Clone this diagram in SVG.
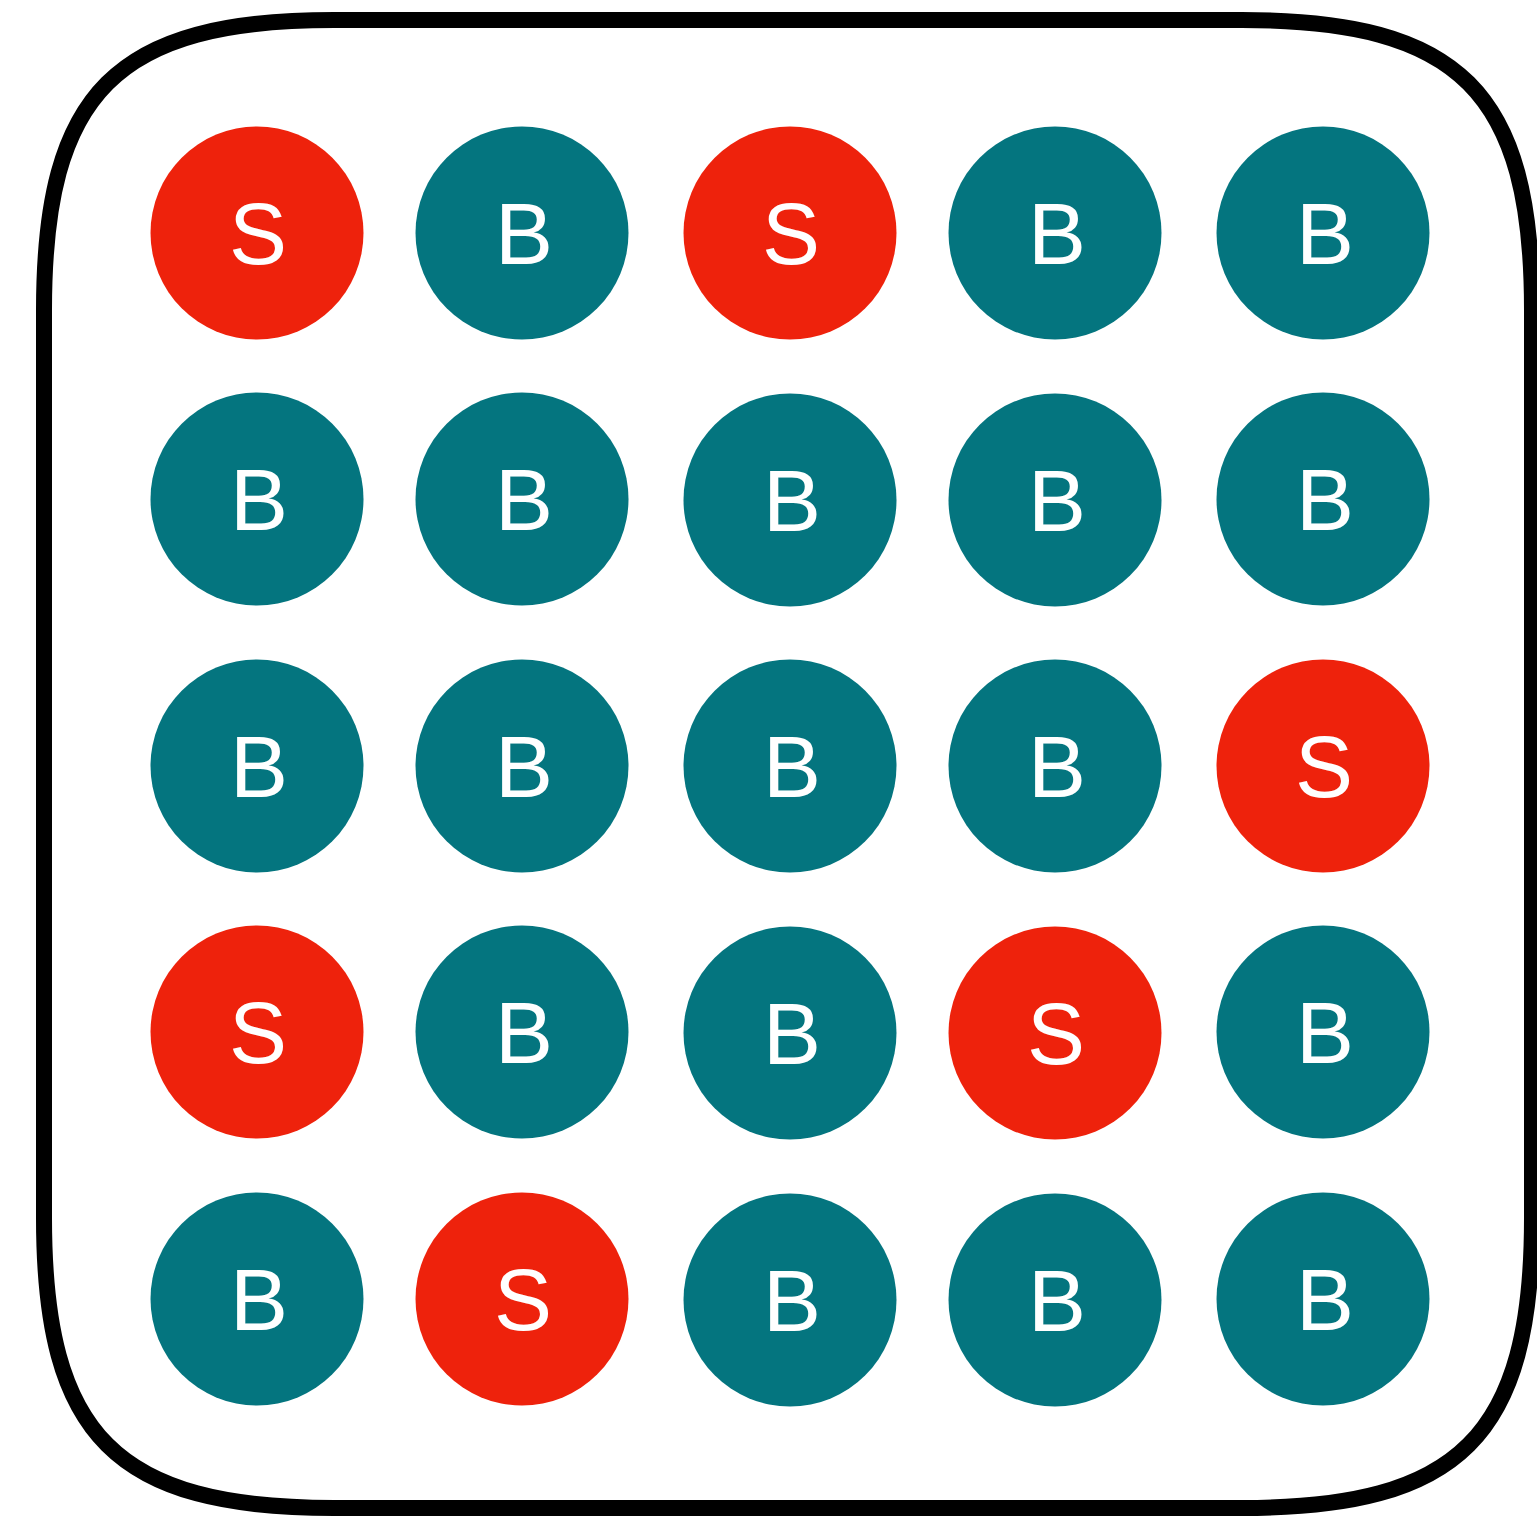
<svg xmlns="http://www.w3.org/2000/svg" width="1537" height="1516" viewBox="0 0 1537 1516">
<style>
.s{fill:#EE220C}
.b{fill:#04757F}
text{font-family:"Liberation Sans",Arial,sans-serif;font-size:87px;fill:#fff;text-anchor:middle}
</style>
<rect width="1537" height="1516" fill="#fff"/>
<path d="M334 20 H1242 C1460 20 1532 92 1532 310 V1218 C1532 1436 1460 1508 1242 1508 H334 C116 1508 44 1436 44 1218 V310 C44 92 116 20 334 20 Z" fill="none" stroke="#000" stroke-width="16"/>
<g id="n11"><circle class="s" cx="257" cy="233" r="106.5"/><text x="258" y="264">S</text></g>
<g id="n12"><circle class="b" cx="522" cy="233" r="106.5"/><text x="524" y="264">B</text></g>
<g id="n13"><circle class="s" cx="790" cy="233" r="106.5"/><text x="791" y="264">S</text></g>
<g id="n14"><circle class="b" cx="1055" cy="233" r="106.5"/><text x="1057" y="264">B</text></g>
<g id="n15"><circle class="b" cx="1323" cy="233" r="106.5"/><text x="1325" y="264">B</text></g>
<g id="n21"><circle class="b" cx="257" cy="499" r="106.5"/><text x="259" y="530">B</text></g>
<g id="n22"><circle class="b" cx="522" cy="499" r="106.5"/><text x="524" y="530">B</text></g>
<g id="n23"><circle class="b" cx="790" cy="500" r="106.5"/><text x="792" y="531">B</text></g>
<g id="n24"><circle class="b" cx="1055" cy="500" r="106.5"/><text x="1057" y="531">B</text></g>
<g id="n25"><circle class="b" cx="1323" cy="499" r="106.5"/><text x="1325" y="530">B</text></g>
<g id="n31"><circle class="b" cx="257" cy="766" r="106.5"/><text x="259" y="797">B</text></g>
<g id="n32"><circle class="b" cx="522" cy="766" r="106.5"/><text x="524" y="797">B</text></g>
<g id="n33"><circle class="b" cx="790" cy="766" r="106.5"/><text x="792" y="797">B</text></g>
<g id="n34"><circle class="b" cx="1055" cy="766" r="106.5"/><text x="1057" y="797">B</text></g>
<g id="n35"><circle class="s" cx="1323" cy="766" r="106.5"/><text x="1324" y="797">S</text></g>
<g id="n41"><circle class="s" cx="257" cy="1032" r="106.5"/><text x="258" y="1063">S</text></g>
<g id="n42"><circle class="b" cx="522" cy="1032" r="106.5"/><text x="524" y="1063">B</text></g>
<g id="n43"><circle class="b" cx="790" cy="1033" r="106.5"/><text x="792" y="1064">B</text></g>
<g id="n44"><circle class="s" cx="1055" cy="1033" r="106.5"/><text x="1056" y="1064">S</text></g>
<g id="n45"><circle class="b" cx="1323" cy="1032" r="106.5"/><text x="1325" y="1063">B</text></g>
<g id="n51"><circle class="b" cx="257" cy="1299" r="106.5"/><text x="259" y="1330">B</text></g>
<g id="n52"><circle class="s" cx="522" cy="1299" r="106.5"/><text x="523" y="1330">S</text></g>
<g id="n53"><circle class="b" cx="790" cy="1300" r="106.5"/><text x="792" y="1331">B</text></g>
<g id="n54"><circle class="b" cx="1055" cy="1300" r="106.5"/><text x="1057" y="1331">B</text></g>
<g id="n55"><circle class="b" cx="1323" cy="1299" r="106.5"/><text x="1325" y="1330">B</text></g>
<g id="connectors"></g>
</svg>
